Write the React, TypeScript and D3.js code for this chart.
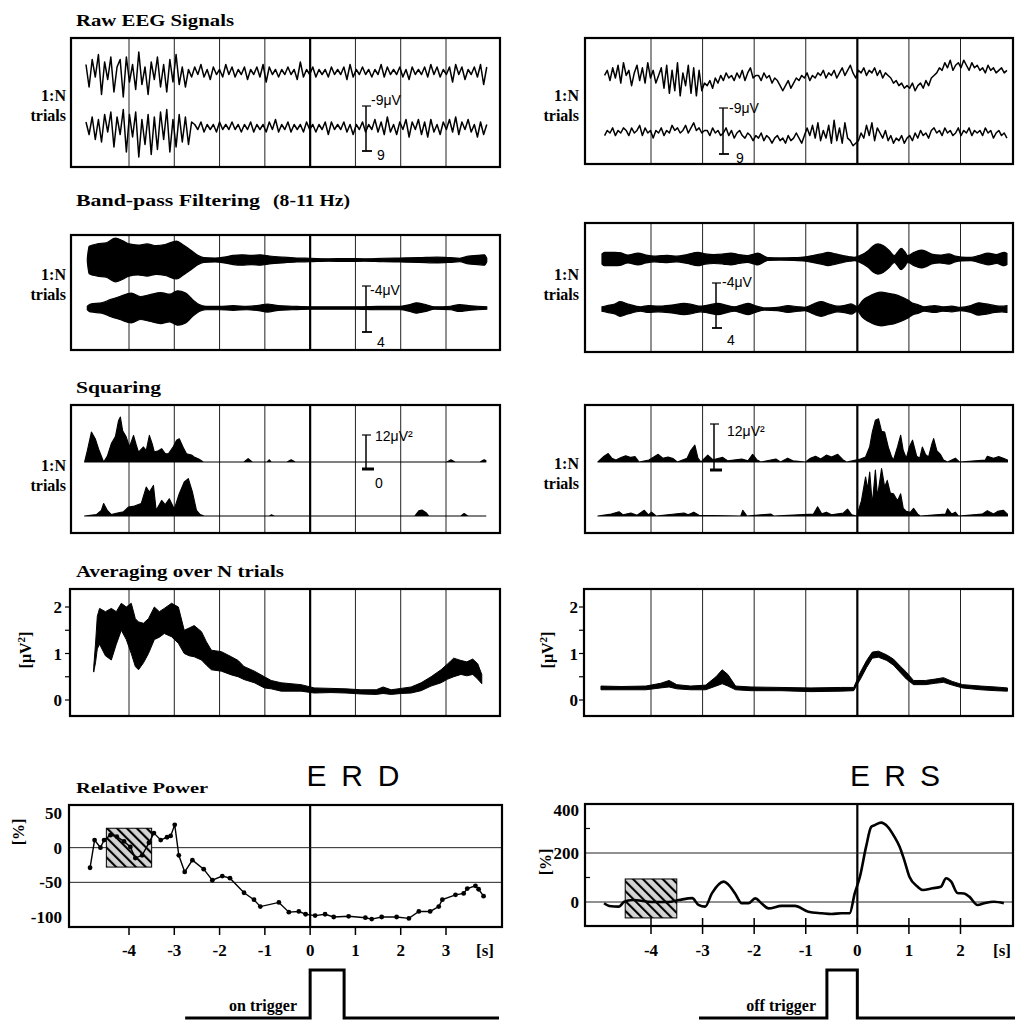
import React from 'react'
import * as d3 from 'd3'

type P = [number, number]

// seconds marked by the vertical grid lines
const secTicksL = [-4, -3, -2, -1, 0, 1, 2, 3]
const secTicksR = [-4, -3, -2, -1, 0, 1, 2]

// raw EEG, µV, evenly sampled over the span (s)
const rawSpanL: P = [-4.95, 3.9]
const rawSpanR: P = [-4.9, 2.9]
const rawL1 = [3, -6, 5, -2, 7, -9, 4, -3, 6, -8, 2, 5, -10, 6, -4, 3, -7, 8, -5, 2, -9, 4, -3, 6, -6, 3, -8, 5, -4, 7, -5, 2, -6,
  1, -2, 2, -1, 3, -2, 1, -3, 2, -1, 1, -2, 3, -1, 2, -2, 1, -1, 2, -3, 1, -1, 2, -2, 3, -4, 2, -1, 1, -2, 1, -1, 2, -1, 1, -3, 4, -2, 1, -1, 2, -2, 1, -1, 1, -2, 2, -1, 1, -1, 2, -3, 3, -2, 1, -1, 2, -1, 1, -2, 1, -1, 3, -2, 2, -1, 1, -1, 2, -2, 1, -3, 2, -1, 1, -1, 2, -2, 3, -1, 2, -2, 1, -1, 2, -4, 3, -1, 2, -3, 1, -1, 2, -2, 3, -5, 2]
const rawL2 = [2, -3, 4, -5, 3, -6, 5, -2, 6, -8, 4, -3, 7, -10, 5, -4, 6, -12, 3, -7, 5, -11, 4, -9, 6, -5, 7, -10, 3, -8, 5, -6, 4, -7, 2,
  1, -1, 2, -2, 1, -1, 1, -2, 2, -1, 1, -1, 2, -1, 1, -2, 1, -1, 2, -2, 1, -1, 1, -2, 2, -1, 3, -2, 1, -1, 2, -2, 1, -1, 1, -2, 2, -1, 1, -2, 1, -1, 2, -3, 2, -1, 1, -1, 2, -2, 1, -3, 1, -1, 2, -2, 1, -1, 3, -2, 2, -3, 4, -2, 1, -3, 2, -1, 3, -4, 2, -1, 3, -3, 2, -4, 3, -2, 1, -3, 2, -1, 3, -2, 4, -3, 2, -1, 3, -2, 1, -4, 2, -3, 1]
const rawR1 = [1, 3, -1, 4, 0, 5, -2, 6, 1, 3, -3, 2, 5, -1, 4, -2, 6, 0, 3, -2, 1,
  4, -4, 5, -6, 3, -5, 6, -7, 2, -3, 5, -6, 4, -7, 3, -5, -2,
  -3, -1, -4, 0, -2, 1, -1, 2, 0, 1, -1, 2, 0, 3, -1, 2, 4, 0, 1,
  1, -1, 2, 0, 1, -2, 0, -1, -3, -5, -3, -1, -4, -2, 0, -1, 1, 0, 2, -1, 1, 0, 2, 1, 3, 0, 2,
  1, 3, 0, 2, 4, 1, 3, 5, 2, 0,
  3, 2, 4, 1, 3, 2, 4, 1, 3, 0, 2, 1, 0, -2, -1, -3, -2, -4, -3,
  -4, -2, -5, -3, -2, -4, -1, -3, 0, 1,
  2, 4, 3, 6, 4, 7, 3, 5, 6, 4, 7, 5, 3, 6, 4, 5, 3, 4, 2, 5, 3, 4, 2, 3, 4, 2, 3]
const rawR2 = [-1, 1, 0, 2, -1, 1, 0, 2, 1, -1, 2, 0, 1, 3, -1, 2, 0, 1, -2, 1, 0, 2, -1, 1, 0, 3, 1, 2, 0, 1, 3, 0, 2, 4, 1, 2, 0, 1,
  1, -1, 2, 0, 1, -1, 0, 2, -1, 1, -2, 0, 1, -1, -2, 0, -1, -3, -1, -2, 0, -3, -1, -2, -4, -2, -1, -3, -2, -4, -1, -3, -2, 0, -2, -4, -1, 2, -1, 3, -2, 4, -3, 1,
  -2, 3, -4, 5, -3, 2, -4, 4, -2, -3, -5, -4,
  -3, 0, -2, 3, -1, 4, -3, 2, 0, -2, 1, -3, -1, -4, -2, -3, -1, -4, -2,
  -1, -3, 0, -2, 1, -1, 0, -2, 1, 2, 0, 1, -1, 2, 0, 1, -1, 0, 2, -1, 1, 0, 2, -1, 1, 0, 1, -1, 2, 0, 1, -2, 0, 1, -1, 0, -2]

// band-pass 8-11 Hz: [s, half amplitude µV]
const bpL1: P[] = [[-4.92, 0.3], [-4.88, 2.4], [-4.7, 2.8], [-4.5, 3.0], [-4.3, 3.8], [-4.15, 3.4], [-4.0, 2.8], [-3.8, 2.6], [-3.6, 2.8], [-3.4, 2.5], [-3.2, 2.7], [-2.95, 3.3], [-2.8, 2.6], [-2.65, 1.8], [-2.5, 0.9], [-2.35, 0.4], [-2.1, 0.35], [-1.9, 0.5], [-1.7, 0.8], [-1.5, 0.9], [-1.3, 0.8], [-1.1, 0.9], [-0.9, 0.7], [-0.6, 0.5], [-0.3, 0.35], [0, 0.3], [0.4, 0.2], [0.8, 0.25], [1.2, 0.2], [1.6, 0.3], [2.0, 0.35], [2.4, 0.4], [2.8, 0.5], [3.1, 0.4], [3.3, 0.3], [3.5, 0.7], [3.7, 0.8], [3.85, 0.9], [3.9, 0.3]]
const bpL2: P[] = [[-4.92, 0.3], [-4.85, 0.7], [-4.6, 0.9], [-4.4, 1.5], [-4.2, 2.0], [-3.95, 2.6], [-3.75, 2.0], [-3.55, 2.3], [-3.3, 2.7], [-3.1, 2.4], [-2.93, 3.0], [-2.75, 2.6], [-2.6, 1.5], [-2.45, 0.6], [-2.3, 0.3], [-2.0, 0.3], [-1.7, 0.4], [-1.4, 0.3], [-1.1, 0.5], [-0.95, 0.7], [-0.7, 0.4], [-0.4, 0.3], [0, 0.2], [0.5, 0.2], [1.0, 0.2], [1.5, 0.3], [2.0, 0.3], [2.2, 0.6], [2.35, 0.9], [2.55, 0.6], [2.75, 0.2], [3.1, 0.3], [3.3, 0.6], [3.5, 0.4], [3.7, 0.3], [3.9, 0.2]]
const bpR1: P[] = [[-4.95, 0.9], [-4.9, 1.2], [-4.7, 1.2], [-4.58, 1.1], [-4.45, 0.7], [-4.25, 1.05], [-4.1, 0.7], [-3.94, 0.5], [-3.8, 0.6], [-3.68, 0.65], [-3.5, 0.5], [-3.3, 0.8], [-3.09, 1.2], [-2.95, 0.9], [-2.78, 0.8], [-2.6, 0.9], [-2.45, 1.05], [-2.3, 0.8], [-2.13, 0.6], [-2.0, 0.9], [-1.93, 1.05], [-1.8, 0.5], [-1.74, 0.25], [-1.5, 0.2], [-1.23, 0.25], [-1.0, 0.4], [-0.84, 0.65], [-0.7, 0.9], [-0.57, 1.2], [-0.42, 0.9], [-0.28, 0.6], [-0.15, 0.4], [-0.06, 0.3], [0.05, 0.6], [0.21, 1.5], [0.3, 2.3], [0.4, 2.7], [0.5, 2.4], [0.62, 1.5], [0.72, 0.6], [0.78, 1.2], [0.85, 1.9], [0.92, 1.3], [0.98, 0.6], [1.1, 1.2], [1.24, 1.6], [1.35, 1.3], [1.44, 0.9], [1.6, 0.7], [1.77, 0.9], [1.9, 0.5], [2.02, 0.35], [2.2, 0.3], [2.35, 0.6], [2.54, 1.05], [2.7, 0.8], [2.85, 1.2], [2.9, 1.0]]
const bpR2: P[] = [[-4.95, 0.4], [-4.85, 0.6], [-4.7, 0.9], [-4.6, 1.3], [-4.45, 0.9], [-4.2, 0.4], [-4.05, 0.6], [-3.86, 0.5], [-3.6, 0.7], [-3.36, 1.0], [-3.2, 0.8], [-3.04, 0.5], [-2.9, 0.7], [-2.7, 1.0], [-2.55, 0.7], [-2.38, 0.4], [-2.25, 0.7], [-2.11, 1.0], [-1.95, 0.5], [-1.8, 0.2], [-1.55, 0.3], [-1.34, 0.6], [-1.15, 0.4], [-1.02, 0.3], [-0.85, 0.9], [-0.7, 1.3], [-0.55, 0.9], [-0.38, 0.5], [-0.22, 0.7], [-0.12, 0.9], [0.0, 0.4], [0.1, 1.5], [0.21, 2.2], [0.35, 2.8], [0.46, 3.0], [0.6, 2.8], [0.72, 2.6], [0.85, 2.2], [0.98, 1.6], [1.08, 1.0], [1.17, 0.8], [1.3, 0.4], [1.5, 0.6], [1.65, 0.4], [1.83, 0.5], [2.0, 0.3], [2.2, 0.6], [2.35, 1.1], [2.5, 0.9], [2.67, 0.6], [2.8, 0.5], [2.9, 0.6]]

// squared signal: [s, µV²]
const sqL1: P[] = [[-4.98, 0], [-4.92, 4], [-4.83, 10.6], [-4.74, 8], [-4.67, 4.5], [-4.56, 0], [-4.48, 2], [-4.39, 6.5], [-4.3, 9], [-4.23, 14.7], [-4.19, 15.9], [-4.14, 11], [-4.06, 8.8], [-3.99, 5.3], [-3.9, 9.4], [-3.84, 6], [-3.79, 3.5], [-3.68, 5.3], [-3.62, 4], [-3.55, 9.4], [-3.48, 6], [-3.44, 3.5], [-3.35, 4], [-3.28, 4.7], [-3.2, 3], [-3.13, 2.9], [-3.02, 5.5], [-2.95, 7.7], [-2.89, 8.2], [-2.8, 5], [-2.73, 2.9], [-2.62, 2.5], [-2.56, 1.8], [-2.45, 1], [-2.36, 0], [-1.46, 0], [-1.37, 1.2], [-1.28, 0], [-0.95, 0], [-0.9, 0.8], [-0.86, 0], [-0.51, 0], [-0.42, 0.8], [-0.33, 0], [3.02, 0], [3.11, 0.8], [3.2, 0], [3.75, 0], [3.84, 0.8], [3.88, 0.5]]
const sqL2: P[] = [[-4.98, 0], [-4.72, 0.5], [-4.61, 2], [-4.56, 4.4], [-4.48, 2], [-4.39, 0.5], [-4.28, 1], [-4.12, 1.5], [-4.01, 3.2], [-3.88, 3.5], [-3.73, 4.4], [-3.62, 10.2], [-3.55, 8.5], [-3.46, 10.8], [-3.4, 2], [-3.28, 5.5], [-3.2, 4], [-3.11, 6.1], [-3.0, 2.5], [-2.89, 7.9], [-2.78, 12], [-2.69, 13.2], [-2.6, 8.5], [-2.51, 2], [-2.43, 0.5], [-2.34, 0], [-0.9, 0], [-0.86, 0.4], [-0.79, 0], [2.31, 0], [2.4, 1.8], [2.47, 2.1], [2.56, 1.2], [2.62, 0], [3.33, 0], [3.4, 0.9], [3.48, 0], [3.88, 0]]
const sqR1: P[] = [[-5.03, 0], [-4.91, 1.5], [-4.83, 2.2], [-4.76, 1], [-4.68, 0.5], [-4.58, 1.2], [-4.49, 1.6], [-4.39, 1.2], [-4.31, 1.4], [-4.23, 0], [-4.04, 0.5], [-3.86, 2], [-3.77, 1], [-3.67, 1.3], [-3.57, 0.9], [-3.49, 0], [-3.3, 1], [-3.23, 3], [-3.15, 4.4], [-3.09, 1], [-3.03, 0], [-2.9, 1.8], [-2.8, 0.6], [-2.61, 1.2], [-2.51, 0.3], [-2.24, 0.8], [-2.12, 0.3], [-2.03, 2], [-1.95, 0.6], [-1.87, 0], [-1.58, 0.8], [-1.49, 0], [-1.35, 1], [-1.25, 0.3], [-1.0, 0], [-0.91, 1], [-0.81, 1.5], [-0.71, 0.8], [-0.6, 1.8], [-0.5, 1.3], [-0.38, 2], [-0.28, 0.6], [-0.21, 0], [0.06, 0.8], [0.16, 1.3], [0.24, 4], [0.29, 7.8], [0.35, 10.9], [0.41, 11.3], [0.47, 8], [0.53, 7.8], [0.6, 3.9], [0.66, 1.5], [0.7, 0.5], [0.78, 4], [0.84, 7], [0.89, 3], [0.95, 1], [1.01, 4], [1.07, 5.7], [1.15, 1.5], [1.21, 1], [1.26, 3.9], [1.32, 2], [1.38, 1.3], [1.44, 4.5], [1.48, 6.1], [1.54, 3], [1.61, 2], [1.67, 0.5], [1.75, 0], [1.9, 1], [1.98, 0], [2.48, 0.5], [2.52, 1.5], [2.64, 1], [2.74, 1.4], [2.83, 1], [2.91, 0.5]]
const sqR2: P[] = [[-5.03, 0], [-4.77, 0.5], [-4.62, 1.1], [-4.54, 0.3], [-4.39, 0.8], [-4.27, 0.2], [-4.13, 1.5], [-4.05, 0.3], [-3.99, 1], [-3.9, 0], [-3.36, 0.8], [-3.28, 0.3], [-3.17, 1], [-3.07, 0.2], [-2.26, 0], [-2.22, 1.5], [-2.14, 0], [-1.68, 0.5], [-1.62, 0], [-0.85, 0.5], [-0.77, 2.4], [-0.69, 0.6], [-0.6, 1], [-0.5, 0.3], [-0.27, 0.8], [-0.19, 1.8], [-0.11, 0.3], [-0.01, 0], [0.08, 4], [0.16, 10.2], [0.2, 7], [0.24, 11.5], [0.29, 3], [0.35, 12], [0.39, 5], [0.47, 12.4], [0.53, 7.6], [0.58, 9.3], [0.64, 6], [0.7, 5.8], [0.78, 4], [0.84, 5.8], [0.89, 2], [0.95, 1.2], [1.03, 1], [1.09, 2], [1.17, 0.5], [1.22, 0], [1.71, 0.5], [1.75, 1.9], [1.83, 0.5], [1.9, 1], [1.96, 0], [2.42, 0.5], [2.52, 1.4], [2.64, 0.5], [2.72, 1.2], [2.83, 1.5], [2.91, 0.5]]

// averaged power over N trials: [s, lower, upper] µV²
const avgL: [number, number, number][] = [[-4.78, 0.6, 0.7], [-4.74, 0.8, 1.2], [-4.7, 1.1, 1.8], [-4.65, 1.2, 1.97], [-4.52, 0.95, 1.9], [-4.39, 0.86, 1.97], [-4.28, 1.2, 1.9], [-4.17, 1.5, 2.08], [-4.06, 1.3, 2.0], [-3.95, 1.0, 2.08], [-3.86, 0.72, 1.75], [-3.79, 0.65, 1.68], [-3.68, 0.8, 1.65], [-3.57, 1.0, 1.75], [-3.44, 1.3, 2.0], [-3.33, 1.35, 1.9], [-3.22, 1.43, 1.97], [-3.06, 1.36, 2.08], [-2.91, 1.22, 2.0], [-2.78, 1.0, 1.5], [-2.67, 0.95, 1.55], [-2.56, 0.93, 1.6], [-2.4, 0.86, 1.47], [-2.29, 0.75, 1.25], [-2.18, 0.65, 1.07], [-1.96, 0.62, 1.04], [-1.74, 0.54, 0.93], [-1.59, 0.5, 0.85], [-1.46, 0.44, 0.72], [-1.23, 0.37, 0.62], [-1.01, 0.26, 0.5], [-0.86, 0.24, 0.42], [-0.64, 0.19, 0.37], [-0.42, 0.19, 0.35], [-0.2, 0.19, 0.33], [0.09, 0.15, 0.26], [0.46, 0.16, 0.25], [0.79, 0.15, 0.24], [1.12, 0.13, 0.22], [1.46, 0.12, 0.22], [1.61, 0.14, 0.28], [1.79, 0.12, 0.22], [2.01, 0.14, 0.25], [2.23, 0.15, 0.28], [2.45, 0.2, 0.37], [2.67, 0.3, 0.5], [2.89, 0.37, 0.65], [3.04, 0.45, 0.78], [3.17, 0.5, 0.9], [3.33, 0.55, 0.85], [3.46, 0.52, 0.82], [3.59, 0.55, 0.88], [3.7, 0.45, 0.78], [3.79, 0.35, 0.55]]
const avgR: [number, number, number][] = [[-4.97, 0.22, 0.3], [-4.58, 0.22, 0.29], [-4.1, 0.22, 0.3], [-3.81, 0.26, 0.36], [-3.65, 0.28, 0.42], [-3.5, 0.24, 0.33], [-3.23, 0.22, 0.3], [-2.94, 0.22, 0.32], [-2.74, 0.3, 0.5], [-2.62, 0.35, 0.65], [-2.51, 0.3, 0.55], [-2.36, 0.22, 0.3], [-2.06, 0.2, 0.28], [-1.48, 0.2, 0.27], [-0.9, 0.18, 0.26], [-0.32, 0.19, 0.27], [-0.07, 0.2, 0.27], [0.06, 0.45, 0.6], [0.18, 0.7, 0.85], [0.29, 0.9, 1.03], [0.41, 0.92, 1.05], [0.57, 0.85, 0.97], [0.7, 0.75, 0.88], [0.84, 0.58, 0.72], [0.95, 0.45, 0.6], [1.09, 0.33, 0.42], [1.32, 0.33, 0.42], [1.51, 0.36, 0.45], [1.67, 0.38, 0.48], [1.84, 0.32, 0.4], [2.04, 0.26, 0.33], [2.39, 0.22, 0.3], [2.68, 0.2, 0.28], [2.91, 0.19, 0.26]]
const avgTicks = [0, 0.5, 1, 1.5, 2]
const avgLabels = [0, 1, 2]

// relative power (%)
const erdT = [-4.86, -4.76, -4.63, -4.55, -4.41, -4.27, -4.11, -3.97, -3.86, -3.71, -3.56, -3.45, -3.3, -3.16, -3.08, -2.99, -2.9, -2.77, -2.6, -2.35, -2.16, -1.94, -1.77, -1.46, -1.24, -1.1, -0.69, -0.47, -0.25, -0.1, 0.11, 0.33, 0.52, 0.85, 1.22, 1.36, 1.58, 1.91, 2.18, 2.4, 2.65, 2.84, 2.92, 3.21, 3.39, 3.47, 3.65, 3.72, 3.83]
const erdV = [-29, 11, 0, 11, 18, 16, 9, 1, -15, -11, 7, 21, 11, 15, 17, 33, -11, -35, -18, -31, -47, -41, -44, -65, -75, -85, -79, -93, -92, -96, -98, -96, -100, -99, -101, -103, -100, -100, -102, -92, -92, -85, -75, -68, -66, -59, -55, -60, -70]
const ersT = [-4.91, -4.81, -4.62, -4.52, -4.36, -3.98, -3.66, -3.46, -3.2, -3.08, -2.95, -2.82, -2.59, -2.5, -2.37, -2.24, -2.11, -1.98, -1.86, -1.72, -1.47, -1.21, -0.95, -0.69, -0.5, -0.31, -0.15, -0.05, 0.05, 0.17, 0.27, 0.34, 0.46, 0.59, 0.72, 0.82, 0.91, 1.01, 1.17, 1.27, 1.46, 1.62, 1.72, 1.82, 1.94, 2.07, 2.17, 2.33, 2.46, 2.65, 2.84]
const ersV = [-5, -16, -19, 1, 8, 0, 0, 8, 16, -12, -19, 35, 83, 71, 35, -5, -5, 15, -5, -26, -16, -16, -40, -46, -49, -46, -46, 35, 103, 226, 307, 314, 324, 307, 266, 226, 171, 103, 62, 49, 56, 62, 97, 83, 37, 35, 22, -12, -5, 1, -5]
const erdTicks = [50, 0, -50, -100]
const erdGrid = [0, -50]
const ersTicks = [400, 200, 0]
const ersGrid = [200, 0]
const ersMinor = [100, 300]
const refSpan: P = [-4.5, -3.5]
const erdRef: P = [-28, 28]
const ersRef: P = [-65, 94]

// trigger pulses: start, rise, fall, end (s)
const onTrigger = [-2.76, 0, 0.75, 4.17]
const offTrigger = [-3.07, -0.59, 0, 3.07]

const xL = d3.scaleLinear().domain([-4, 3]).range([129, 446])
const xR = d3.scaleLinear().domain([-4, 2]).range([651, 960.5])

const serif = 'Liberation Serif, Times New Roman, serif'
const sans = 'Liberation Sans, Arial, sans-serif'

function Frame({ x0, x1, y0, y1, xs, ticks, children }: any) {
  return (
    <g>
      {ticks.map((t: number) => (
        <line key={t} x1={xs(t)} x2={xs(t)} y1={y0} y2={y1}
          stroke={t === 0 ? '#000' : '#222'} strokeWidth={t === 0 ? 2.2 : 1} />
      ))}
      {children}
      <rect x={x0} y={y0} width={x1 - x0} height={y1 - y0} fill="none" stroke="#000" strokeWidth={2.2} />
    </g>
  )
}

function Raw({ vals, span, xs, y0, k }: any) {
  const n = vals.length
  const pts: P[] = vals.map((v: number, i: number) => [span[0] + (span[1] - span[0]) * i / (n - 1), v])
  const ys = d3.scaleLinear().domain([0, 1]).range([y0, y0 - k])
  const line = d3.line<P>().x(d => xs(d[0])).y(d => ys(d[1]))
  return <path d={line(pts) || ''} fill="none" stroke="#000" strokeWidth={1.5} strokeLinejoin="round" />
}

function Envelope({ env, xs, y0, k }: any) {
  const ys = d3.scaleLinear().domain([0, 1]).range([y0, y0 - k])
  const area = d3.area<P>().x(d => xs(d[0])).y0(d => ys(-d[1])).y1(d => ys(d[1])).curve(d3.curveMonotoneX)
  return <path d={area(env) || ''} fill="#000" stroke="#000" strokeWidth={1.2} />
}

function Squared({ pts, xs, y0, k }: any) {
  const ys = d3.scaleLinear().domain([0, 1]).range([y0, y0 - k])
  const area = d3.area<P>().x(d => xs(d[0])).y0(ys(0)).y1(d => ys(d[1]))
  return <path d={area(pts) || ''} fill="#000" stroke="#000" strokeWidth={1.1} strokeLinejoin="round" />
}

function Band({ pts, xs, ys }: any) {
  const area = d3.area<[number, number, number]>().x(d => xs(d[0])).y0(d => ys(d[1])).y1(d => ys(d[2]))
  return <path d={area(pts) || ''} fill="#000" stroke="#000" strokeWidth={1} />
}

function ScaleBar({ x, y0, y1, top, bot, tx, ty, bx, by, heavy }: any) {
  return (
    <g fontFamily={sans} fontSize={14}>
      <line x1={x} x2={x} y1={y0} y2={y1} stroke="#000" strokeWidth={1.5} />
      <line x1={x - 4} x2={x + 5} y1={y0} y2={y0} stroke="#000" strokeWidth={1.2} />
      <line x1={x - 4} x2={x + (heavy ? 8 : 6)} y1={y1} y2={y1} stroke="#000" strokeWidth={heavy ? 3 : 1.8} />
      <text x={tx} y={ty}>{top}</text>
      {bot && <text x={bx} y={by}>{bot}</text>}
    </g>
  )
}

function Trials({ x, y }: any) {
  return (
    <g fontFamily={serif} fontWeight="bold" fontSize={16} textAnchor="end">
      <text x={x} y={y}>1:N</text>
      <text x={x} y={y + 20}>trials</text>
    </g>
  )
}

function Title({ x = 76, y, w, children, size = 17 }: any) {
  return (
    <text x={x} y={y} fontFamily={serif} fontWeight="bold" fontSize={size}
      textLength={w} lengthAdjust="spacingAndGlyphs">{children}</text>
  )
}

function UnitUV2({ x, y }: any) {
  return (
    <text transform={`translate(${x},${y}) rotate(-90)`} textAnchor="middle" fontFamily={serif}
      fontWeight="bold" fontSize={16}>
      [μV<tspan fontSize={11} dy={-6}>2</tspan><tspan dy={6}>]</tspan>
    </text>
  )
}

function AvgPanel({ x0, x1, xs, ticks, pts, labelX, unitX }: any) {
  const ys = d3.scaleLinear().domain([0, 2]).range([700, 607])
  return (
    <g>
      <Frame x0={x0} x1={x1} y0={589} y1={716} xs={xs} ticks={ticks}>
        <Band pts={pts} xs={xs} ys={ys} />
      </Frame>
      {avgTicks.map(v => <line key={v} x1={x0 - 5} x2={x0} y1={ys(v)} y2={ys(v)} stroke="#000" strokeWidth={1.2} />)}
      {avgLabels.map(v => (
        <text key={v} x={labelX} y={ys(v) + 6} textAnchor="end" fontFamily={serif} fontWeight="bold" fontSize={17}>{v}</text>
      ))}
      <UnitUV2 x={unitX} y={650} />
    </g>
  )
}

function Trigger({ times, xs, label, labelX }: any) {
  const pts: P[] = [[times[0], 0], [times[1], 0], [times[1], 1], [times[2], 1], [times[2], 0], [times[3], 0]]
  const ys = d3.scaleLinear().domain([0, 1]).range([1018, 970])
  const line = d3.line<P>().x(d => xs(d[0])).y(d => ys(d[1]))
  return (
    <g>
      <path d={line(pts) || ''} fill="none" stroke="#000" strokeWidth={3} />
      <text x={labelX} y={1011} textAnchor="end" fontFamily={serif} fontWeight="bold" fontSize={16}>{label}</text>
    </g>
  )
}

export default function App() {
  // relative power scales
  const erdY = d3.scaleLinear().domain([-100, 50]).range([917, 813])
  const ersY = d3.scaleLinear().domain([0, 200]).range([902, 853])
  const erdPts: P[] = erdT.map((t, i) => [t, erdV[i]])
  const ersPts: P[] = ersT.map((t, i) => [t, ersV[i]])
  const erdLine = d3.line<P>().x(d => xL(d[0])).y(d => erdY(d[1]))
  const ersLine = d3.line<P>().x(d => xR(d[0])).y(d => ersY(d[1])).curve(d3.curveMonotoneX)

  return (
    <svg width={1015} height={1021} style={{ position: 'absolute', left: 0, top: 0, background: '#fff' }}>
      <defs>
        <pattern id="hatch" patternUnits="userSpaceOnUse" width={7} height={7} patternTransform="rotate(-45)">
          <rect width={7} height={7} fill="#d4d4d4" />
          <line x1={1} y1={0} x2={1} y2={7} stroke="#000" strokeWidth={2.2} />
        </pattern>
      </defs>

      {/* Row 1: raw EEG */}
      <Title y={26} w={158}>Raw EEG Signals</Title>
      <Trials x={66} y={101} />
      <Frame x0={71} x1={500} y0={38} y1={167} xs={xL} ticks={secTicksL}>
        <Raw vals={rawL1} span={rawSpanL} xs={xL} y0={72} k={2.5} />
        <Raw vals={rawL2} span={rawSpanL} xs={xL} y0={127} k={2.5} />
      </Frame>
      <ScaleBar x={366} y0={106} y1={151} top="-9μV" tx={371} ty={105} bot="9" bx={377} by={160} />
      <Trials x={579} y={101} />
      <Frame x0={585} x1={1013} y0={38} y1={164} xs={xR} ticks={secTicksR}>
        <Raw vals={rawR1} span={rawSpanR} xs={xR} y0={78} k={2.55} />
        <Raw vals={rawR2} span={rawSpanR} xs={xR} y0={133} k={2.55} />
      </Frame>
      <ScaleBar x={723} y0={108} y1={154} top="-9μV" tx={729} ty={113} bot="9" bx={736} by={163} />

      {/* Row 2: band-pass */}
      <Title y={206} w={184}>Band-pass Filtering</Title>
      <Title x={273} y={206} w={77}>(8-11 Hz)</Title>
      <Trials x={66} y={280} />
      <Frame x0={71} x1={500} y0={235} y1={350} xs={xL} ticks={secTicksL}>
        <Envelope env={bpL1} xs={xL} y0={260} k={5.75} />
        <Envelope env={bpL2} xs={xL} y0={308} k={5.75} />
      </Frame>
      <ScaleBar x={366} y0={286} y1={332} top="-4μV" tx={370} ty={295} bot="4" bx={377} by={347} />
      <Trials x={579} y={280} />
      <Frame x0={585} x1={1013} y0={223} y1={352} xs={xR} ticks={secTicksR}>
        <Envelope env={bpR1} xs={xR} y0={259} k={5.6} />
        <Envelope env={bpR2} xs={xR} y0={309} k={5.6} />
      </Frame>
      <ScaleBar x={716} y0={283} y1={328} top="-4μV" tx={722} ty={287} bot="4" bx={727} by={345} />

      {/* Row 3: squaring */}
      <Title y={393} w={85}>Squaring</Title>
      <Trials x={66} y={471} />
      <Frame x0={71} x1={500} y0={405} y1={533} xs={xL} ticks={secTicksL}>
        <Squared pts={sqL1} xs={xL} y0={462} k={2.83} />
        <Squared pts={sqL2} xs={xL} y0={516} k={2.83} />
      </Frame>
      <ScaleBar x={366} y0={435} y1={469} top="12μV²" tx={375} ty={441} bot="0" bx={375} by={488} heavy />
      <Trials x={579} y={469} />
      <Frame x0={585} x1={1013} y0={405} y1={533} xs={xR} ticks={secTicksR}>
        <Squared pts={sqR1} xs={xR} y0={462} k={3.83} />
        <Squared pts={sqR2} xs={xR} y0={516} k={3.83} />
      </Frame>
      <ScaleBar x={714} y0={424} y1={470} top="12μV²" tx={727} ty={436} heavy />

      {/* Row 4: averaging */}
      <Title y={577} w={208}>Averaging over N trials</Title>
      <AvgPanel x0={70} x1={500} xs={xL} ticks={secTicksL} pts={avgL} labelX={62} unitX={31} />
      <AvgPanel x0={584} x1={1013} xs={xR} ticks={secTicksR} pts={avgR} labelX={578} unitX={553} />

      {/* Row 5: relative power */}
      <Title y={793} w={132} size={15}>Relative Power</Title>
      <text x={353} y={786} textAnchor="middle" fontFamily={sans} fontSize={30} textLength={93} lengthAdjust="spacing">ERD</text>
      <text x={895} y={786} textAnchor="middle" fontFamily={sans} fontSize={30} textLength={90} lengthAdjust="spacing">ERS</text>

      <Frame x0={69} x1={502} y0={805} y1={927} xs={xL} ticks={[0]}>
        {erdGrid.map(v => <line key={v} x1={69} x2={502} y1={erdY(v)} y2={erdY(v)} stroke="#222" strokeWidth={1} />)}
        <rect x={xL(refSpan[0])} y={erdY(erdRef[1])} width={xL(refSpan[1]) - xL(refSpan[0])}
          height={erdY(erdRef[0]) - erdY(erdRef[1])} fill="url(#hatch)" stroke="#000" strokeWidth={1} />
        <path d={erdLine(erdPts) || ''} fill="none" stroke="#000" strokeWidth={1.4} />
        {erdPts.map((d, i) => <circle key={i} cx={xL(d[0])} cy={erdY(d[1])} r={2.4} fill="#000" />)}
      </Frame>
      {erdTicks.map(v => (
        <text key={v} x={62} y={erdY(v) + 6} textAnchor="end" fontFamily={serif} fontWeight="bold" fontSize={17}>{v}</text>
      ))}
      <text transform="translate(24,832) rotate(-90)" textAnchor="middle" fontFamily={serif} fontWeight="bold" fontSize={16}>[%]</text>
      {secTicksL.map(t => (
        <g key={t}>
          <line x1={xL(t)} x2={xL(t)} y1={927} y2={935} stroke="#000" strokeWidth={1.5} />
          <text x={xL(t)} y={956} textAnchor="middle" fontFamily={serif} fontWeight="bold" fontSize={17}>{t}</text>
        </g>
      ))}
      <text x={485} y={956} textAnchor="middle" fontFamily={serif} fontWeight="bold" fontSize={17}>[s]</text>

      <Frame x0={585} x1={1013} y0={804} y1={926} xs={xR} ticks={[0]}>
        {ersGrid.map(v => <line key={v} x1={585} x2={1013} y1={ersY(v)} y2={ersY(v)} stroke="#222" strokeWidth={1} />)}
        {ersMinor.map(v => <line key={v} x1={585} x2={590} y1={ersY(v)} y2={ersY(v)} stroke="#000" strokeWidth={1.2} />)}
        <rect x={xR(refSpan[0])} y={ersY(ersRef[1])} width={xR(refSpan[1]) - xR(refSpan[0])}
          height={ersY(ersRef[0]) - ersY(ersRef[1])} fill="url(#hatch)" stroke="#000" strokeWidth={1} />
        <path d={ersLine(ersPts) || ''} fill="none" stroke="#000" strokeWidth={2.6} strokeLinejoin="round" />
      </Frame>
      {ersTicks.map(v => (
        <text key={v} x={579} y={Math.max(ersY(v), 810) + 6} textAnchor="end" fontFamily={serif} fontWeight="bold" fontSize={17}>{v}</text>
      ))}
      <text transform="translate(551,862) rotate(-90)" textAnchor="middle" fontFamily={serif} fontWeight="bold" fontSize={16}>[%]</text>
      {secTicksR.map(t => (
        <g key={t}>
          <line x1={xR(t)} x2={xR(t)} y1={918} y2={934} stroke="#000" strokeWidth={1.5} />
          <text x={xR(t)} y={956} textAnchor="middle" fontFamily={serif} fontWeight="bold" fontSize={17}>{t}</text>
        </g>
      ))}
      <text x={1002} y={956} textAnchor="middle" fontFamily={serif} fontWeight="bold" fontSize={17}>[s]</text>

      {/* trigger pulses */}
      <Trigger times={onTrigger} xs={xL} label="on trigger" labelX={297} />
      <Trigger times={offTrigger} xs={xR} label="off trigger" labelX={816} />
    </svg>
  )
}
